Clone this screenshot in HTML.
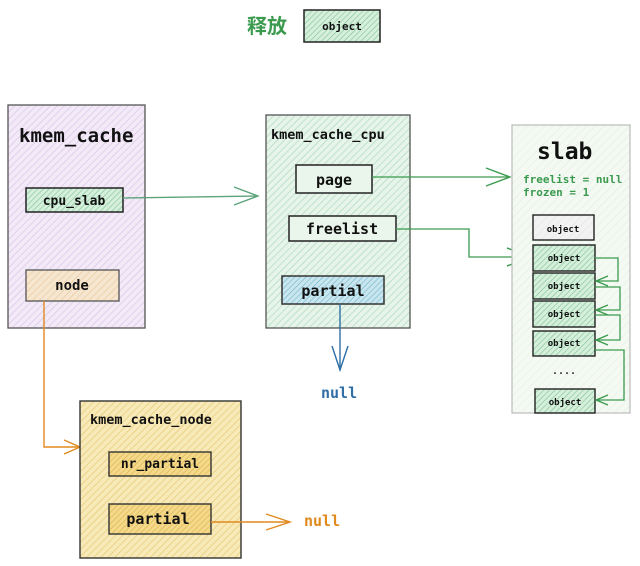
<!DOCTYPE html>
<html><head><meta charset="utf-8"><style>
body{margin:0;background:#fff;}
svg{display:block;}
text{font-family:"DejaVu Sans Mono","Liberation Mono",monospace;font-weight:bold;}
</style></head><body>
<svg width="640" height="566" viewBox="0 0 640 566" xmlns="http://www.w3.org/2000/svg">
<defs>
<pattern id="hp" width="5" height="5" patternUnits="userSpaceOnUse" patternTransform="rotate(45)"><rect width="5" height="5" fill="#f3eaf8"/><line x1="0" y1="0" x2="0" y2="5" stroke="#d7bfe4" stroke-width="1.2"/></pattern>
<pattern id="hg" width="5" height="5" patternUnits="userSpaceOnUse" patternTransform="rotate(45)"><rect width="5" height="5" fill="#e6f4ea"/><line x1="0" y1="0" x2="0" y2="5" stroke="#a9d6b5" stroke-width="1.2"/></pattern>
<pattern id="hg2" width="4" height="4" patternUnits="userSpaceOnUse" patternTransform="rotate(45)"><rect width="4" height="4" fill="#d6efdc"/><line x1="0" y1="0" x2="0" y2="4" stroke="#7fc493" stroke-width="1.2"/></pattern>
<pattern id="hl" width="6" height="6" patternUnits="userSpaceOnUse" patternTransform="rotate(45)"><rect width="6" height="6" fill="#f4f9f3"/><line x1="0" y1="0" x2="0" y2="6" stroke="#e0eedc" stroke-width="1"/></pattern>
<pattern id="hy" width="5" height="5" patternUnits="userSpaceOnUse" patternTransform="rotate(45)"><rect width="5" height="5" fill="#f8eab8"/><line x1="0" y1="0" x2="0" y2="5" stroke="#e3c56a" stroke-width="1.2"/></pattern>
<pattern id="hy2" width="4" height="4" patternUnits="userSpaceOnUse" patternTransform="rotate(45)"><rect width="4" height="4" fill="#f5d98a"/><line x1="0" y1="0" x2="0" y2="4" stroke="#d9b24a" stroke-width="1.2"/></pattern>
<pattern id="ho" width="5" height="5" patternUnits="userSpaceOnUse" patternTransform="rotate(45)"><rect width="5" height="5" fill="#f7e6cf"/><line x1="0" y1="0" x2="0" y2="5" stroke="#e6c59a" stroke-width="1.2"/></pattern>
<pattern id="hb" width="4" height="4" patternUnits="userSpaceOnUse" patternTransform="rotate(45)"><rect width="4" height="4" fill="#c9e6ef"/><line x1="0" y1="0" x2="0" y2="4" stroke="#6fb5cc" stroke-width="1.2"/></pattern>
<pattern id="hw" width="6" height="6" patternUnits="userSpaceOnUse" patternTransform="rotate(45)"><rect width="6" height="6" fill="#f2f2f2"/><line x1="0" y1="0" x2="0" y2="6" stroke="#e2e2e2" stroke-width="1"/></pattern>
</defs>

<text x="247" y="33" font-family="Noto Sans CJK SC, sans-serif" font-size="20" fill="#3a9a4e" style="font-family:'Noto Sans CJK SC',sans-serif">释放</text>
<rect x="304" y="10" width="76" height="32" fill="url(#hg2)" stroke="#222" stroke-width="1.5"/>
<text x="342" y="30" font-size="11" text-anchor="middle" fill="#111">object</text>

<rect x="8" y="105" width="137" height="223" fill="url(#hp)" stroke="#555" stroke-width="1.3"/>
<text x="19" y="142" font-size="19" fill="#111">kmem_cache</text>
<rect x="26" y="188" width="97" height="24" fill="url(#hg2)" stroke="#222" stroke-width="1.5"/>
<text x="74" y="205" font-size="13" text-anchor="middle" fill="#111">cpu_slab</text>
<rect x="26" y="270" width="93" height="31" fill="url(#ho)" stroke="#555" stroke-width="1.3"/>
<text x="72" y="290" font-size="14" text-anchor="middle" fill="#111">node</text>

<path d="M123 198 L258 196" stroke="#5ba37a" stroke-width="1.3" fill="none"/>
<path d="M234 187 L258 196 L234 205" stroke="#5ba37a" stroke-width="1.3" fill="none"/>

<rect x="266" y="115" width="144" height="213" fill="url(#hg)" stroke="#555" stroke-width="1.3"/>
<text x="271" y="139" font-size="13.5" fill="#111">kmem_cache_cpu</text>
<rect x="296" y="165" width="76" height="28" fill="#eaf6ec" stroke="#222" stroke-width="1.5"/>
<text x="334" y="185" font-size="15" text-anchor="middle" fill="#111">page</text>
<rect x="289" y="216" width="107" height="25" fill="#eaf6ec" stroke="#222" stroke-width="1.5"/>
<text x="342" y="234" font-size="15" text-anchor="middle" fill="#111">freelist</text>
<rect x="282" y="276" width="102" height="28" fill="url(#hb)" stroke="#333" stroke-width="1.5"/>
<text x="333" y="296" font-size="15" text-anchor="middle" fill="#111">partial</text>
<path d="M340 304 L340 370" stroke="#2f6fa5" stroke-width="1.4" fill="none"/>
<path d="M332 346 L340 370 L348 346" stroke="#2f6fa5" stroke-width="1.4" fill="none"/>
<text x="321" y="398" font-size="15" fill="#2f6fa5">null</text>

<path d="M372 177 L508 177" stroke="#3a9a4e" stroke-width="1.3" fill="none"/>
<path d="M486 168 L510 177 L486 186" stroke="#3a9a4e" stroke-width="1.3" fill="none"/>
<path d="M396 229 L469 229 L469 257 L531 257" stroke="#3a9a4e" stroke-width="1.3" fill="none"/>
<path d="M507 248 L531 257 L507 266" stroke="#3a9a4e" stroke-width="1.5" fill="none"/>

<rect x="512" y="125" width="118" height="288" fill="url(#hl)" stroke="#bbb" stroke-width="1.2"/>
<text x="537" y="159" font-size="23" fill="#111">slab</text>
<text x="523" y="183" font-size="11" fill="#3a9a4e">freelist = null</text>
<text x="523" y="196" font-size="11" fill="#3a9a4e">frozen = 1</text>
<rect x="533" y="215" width="61" height="25" fill="url(#hw)" stroke="#222" stroke-width="1.4"/>
<text x="563" y="232" font-size="9" text-anchor="middle" fill="#111">object</text>
<g fill="url(#hg2)" stroke="#222" stroke-width="1.4">
<rect x="533" y="245" width="62" height="26"/>
<rect x="533" y="273" width="62" height="26"/>
<rect x="533" y="301" width="62" height="26"/>
<rect x="533" y="331" width="62" height="25"/>
<rect x="535" y="389" width="60" height="24"/>
</g>
<g font-size="9" text-anchor="middle" fill="#111">
<text x="564" y="261">object</text>
<text x="564" y="289">object</text>
<text x="564" y="317">object</text>
<text x="564" y="346">object</text>
<text x="565" y="405">object</text>
</g>
<text x="564" y="374" font-size="10" text-anchor="middle" fill="#333">....</text>
<g stroke="#3a9a4e" stroke-width="1.3" fill="none">
<path d="M595 258 L618 258 L618 281 L596 281"/><path d="M608 276 L596 281 L608 286"/>
<path d="M595 287 L620 287 L620 310 L596 310"/><path d="M608 305 L596 310 L608 315"/>
<path d="M595 315 L620 315 L620 340 L596 340"/><path d="M608 335 L596 340 L608 345"/>
<path d="M595 350 L624 350 L624 400 L596 400"/><path d="M608 395 L596 400 L608 405"/>
</g>

<path d="M44 301 L44 447 L80 447" stroke="#e08a1e" stroke-width="1.4" fill="none"/>
<path d="M64 440 L80 447 L64 454" stroke="#e08a1e" stroke-width="1.4" fill="none"/>

<rect x="80" y="401" width="161" height="157" fill="url(#hy)" stroke="#333" stroke-width="1.4"/>
<text x="90" y="424" font-size="13.5" fill="#111">kmem_cache_node</text>
<rect x="109" y="452" width="102" height="24" fill="url(#hy2)" stroke="#333" stroke-width="1.4"/>
<text x="160" y="468" font-size="13" text-anchor="middle" fill="#111">nr_partial</text>
<rect x="109" y="504" width="102" height="30" fill="url(#hy2)" stroke="#333" stroke-width="1.4"/>
<text x="158" y="524" font-size="15" text-anchor="middle" fill="#111">partial</text>
<path d="M211 522 L290 522" stroke="#e08a1e" stroke-width="1.4" fill="none"/>
<path d="M266 514 L290 522 L266 530" stroke="#e08a1e" stroke-width="1.4" fill="none"/>
<text x="304" y="526" font-size="15" fill="#e08a1e">null</text>
</svg>
</body></html>
